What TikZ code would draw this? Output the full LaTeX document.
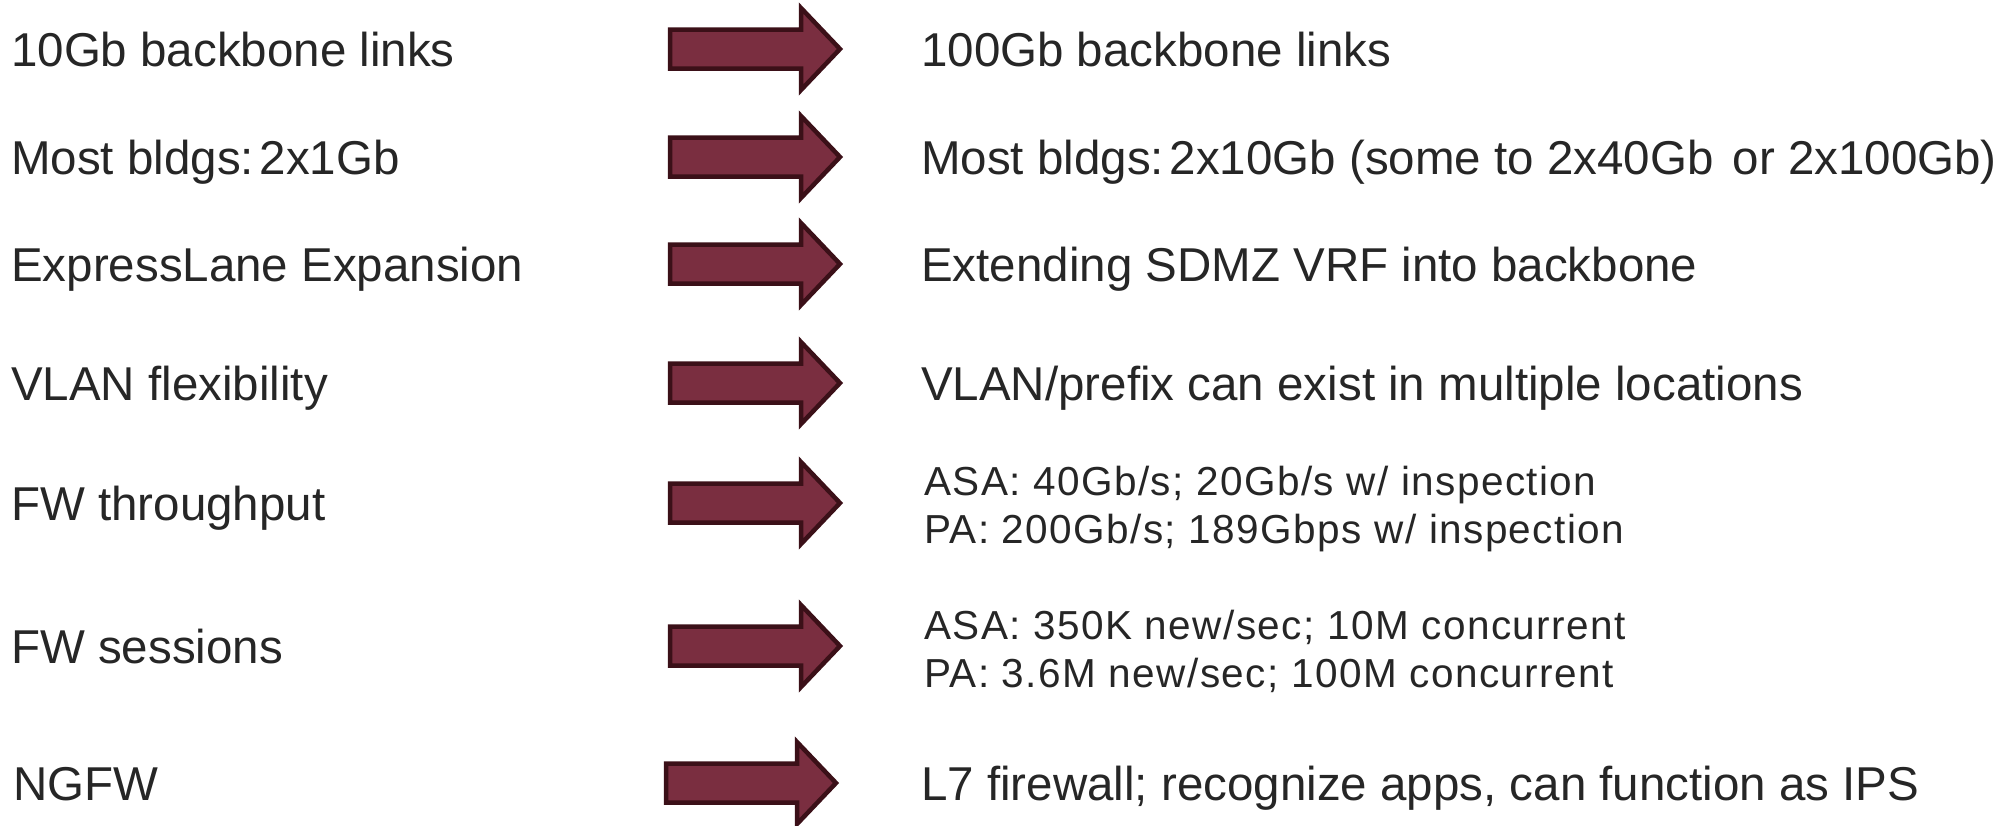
\documentclass[tikz,border=0pt]{standalone}
\usepackage{fontspec}
\setmainfont{Liberation Sans}
\newfontfamily\widefont[LetterSpace=3.5]{Liberation Sans}
\definecolor{textgray}{HTML}{262626}
\definecolor{arrowfill}{HTML}{7A2E40}
\definecolor{arrowedge}{HTML}{3B1018}
\begin{document}
\begin{tikzpicture}[x=1pt,y=-1pt,
  lbl/.style={anchor=base west,inner sep=0pt,text=textgray,
    font=\fontsize{47.5}{57}\selectfont},
  sub/.style={anchor=base west,inner sep=0pt,text=textgray,
    font=\widefont\fontsize{40.5}{48}\selectfont},
  blockarrow/.style={fill=arrowfill,draw=arrowedge,line width=4.5pt,miter limit=10},
  pics/bigarrow/.style={code={
    \draw[blockarrow] (-170,-19.5) -- (-39,-19.5) -- (-39,-41) -- (0,0)
      -- (-39,41) -- (-39,19.5) -- (-170,19.5) -- cycle;}}]
\useasboundingbox (0,0) rectangle (2016,825);
\fill[white] (0,0) rectangle (2016,825);
\clip (0,0) rectangle (2016,825);

% block arrows, placed by their tips
\coordinate (t1) at (840,49);
\coordinate (t2) at (840,157);
\coordinate (t3) at (840,264);
\coordinate (t4) at (840,383);
\coordinate (t5) at (840,503);
\coordinate (t6) at (840,646);
\coordinate (t7) at (836,783);
\foreach \i in {1,...,7} \pic at (t\i) {bigarrow};

% current state
\node[lbl] (l1) at (11,66) {10Gb backbone links};
\node[lbl] (l2) at (11,174) {Most bldgs:\hspace{0.12em}2x1Gb};
\node[lbl] (l3) at (11,281) {ExpressLane Expansion};
\node[lbl] (l4) at (11,400) {VLAN flexibility};
\node[lbl] (l5) at (11,520) {FW throughput};
\node[lbl] (l6) at (11,663) {FW sessions};
\node[lbl] (l7) at (13,800) {NGFW};

% planned state
\node[lbl] (r1) at (921,66) {100Gb backbone links};
\node[lbl] (r2) at (921,174) {Most bldgs:\hspace{0.12em}2x10Gb (some to 2x40Gb\hspace{0.4em}or 2x100Gb)};
\node[lbl] (r3) at (921,281) {Extending SDMZ VRF into backbone};
\node[lbl] (r4) at (921,400) {VLAN/prefix can exist in multiple locations};
\node[sub] (r5a) at (924,495) {ASA: 40Gb/s; 20Gb/s w/ inspection};
\node[sub] (r5b) at (924,543) {PA: 200Gb/s; 189Gbps w/ inspection};
\node[sub] (r6a) at (924,639) {ASA: 350K new/sec; 10M concurrent};
\node[sub] (r6b) at (924,687) {PA: 3.6M new/sec; 100M concurrent};
\node[lbl] (r7) at (921,800) {L7 firewall; recognize apps, can function as IPS};
\end{tikzpicture}
\end{document}
